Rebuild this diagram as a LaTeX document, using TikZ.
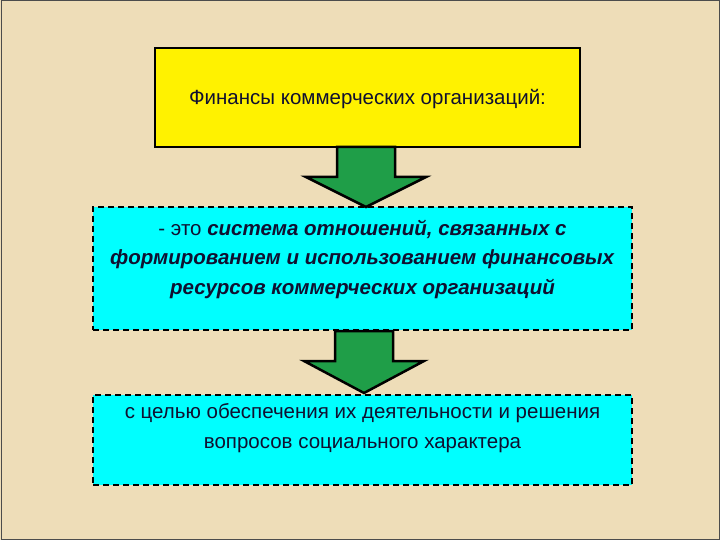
\documentclass[tikz,border=0pt]{standalone}
\usepackage{fontspec}
\setmainfont{Liberation Sans}
\usetikzlibrary{calc}
\definecolor{bg}{HTML}{EEDDB8}
\definecolor{ink}{HTML}{101030}
\definecolor{agreen}{HTML}{1F9E48}
\definecolor{cy}{HTML}{00FFFF}
\tikzset{
  txt/.style={align=center, text=ink, font=\fontsize{20.5}{29.5}\selectfont, inner sep=0pt},
  box/.style={draw=black, minimum width=#1, inner sep=0pt},
  dbox/.style={draw=black, dash pattern=on 6pt off 4pt, line width=1.4pt, fill=cy, minimum width=539pt, inner sep=0pt},
  bigarrow/.style={fill=agreen, draw=black, line width=2.5pt, line join=miter}
}
\newcommand{\downarrowshape}[2]{%
  \draw[bigarrow] ($(#1)+(-29,0)$) -- ($(#1)+(29,0)$) -- ($(#1)+(29,30)$) -- ($(#1)+(60,30)$)
   -- (#2) -- ($(#1)+(-60,30)$) -- ($(#1)+(-29,30)$) -- cycle;}
\begin{document}
\begin{tikzpicture}[x=1pt,y=-1pt]
\fill[bg] (0,0) rectangle (720,540);
\draw[black!70, line width=1pt] (1,1) rectangle (719,539);
\node[box=425pt, fill=yellow, minimum height=99pt, line width=1.2pt] (a) at (367.5,97.5) {};
\node[txt] (at) at (367.5,99) {Финансы коммерческих организаций:};
\node[dbox, minimum height=123pt] (b) at (362.5,268.5) {};
\node[txt] (bt) at (362.5,259) {- это \textbf{\textit{система отношений, связанных с}}\\\textbf{\textit{формированием и использованием финансовых}}\\\textbf{\textit{ресурсов коммерческих организаций}}};
\node[dbox, minimum height=90pt] (c) at (362.5,440) {};
\node[txt] (ct) at (362.5,428) {с целью обеспечения их деятельности и решения\\вопросов социального характера};
\coordinate (a1) at (366,147);
\coordinate (t1) at (366,207);
\downarrowshape{a1}{t1}
\coordinate (b1) at (364,331);
\coordinate (t2) at (364,393);
\downarrowshape{b1}{t2}
\end{tikzpicture}
\end{document}
